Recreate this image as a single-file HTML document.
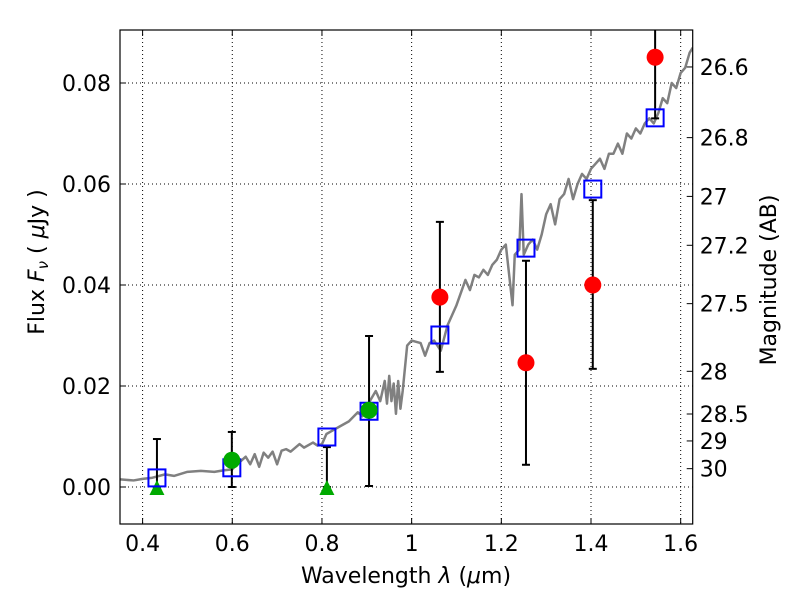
<!DOCTYPE html>
<html><head><meta charset="utf-8"><style>
body{margin:0;background:#fff;font-family:"Liberation Sans","DejaVu Sans",sans-serif}
svg text{font-family:"DejaVu Sans","Liberation Sans",sans-serif;font-size:22px;fill:#000}
</style></head><body>
<svg id="c" width="800" height="600" style="position:absolute;left:0;top:0"></svg>
<script>
const specLam=[0.35,0.38,0.40,0.42,0.45,0.47,0.50,0.53,0.56,0.58,0.60,0.61,0.62,0.63,0.64,0.65,0.66,0.67,0.68,0.69,0.70,0.71,0.72,0.73,0.75,0.76,0.78,0.79,0.80,0.81,0.82,0.84,0.85,0.86,0.88,0.89,0.90,0.91,0.92,0.93,0.94,0.945,0.95,0.955,0.96,0.965,0.97,0.975,0.98,0.99,1.00,1.02,1.03,1.04,1.05,1.065,1.08,1.10,1.12,1.13,1.14,1.15,1.16,1.17,1.18,1.19,1.20,1.21,1.22,1.225,1.23,1.24,1.245,1.25,1.26,1.27,1.28,1.29,1.30,1.31,1.32,1.33,1.34,1.35,1.36,1.37,1.38,1.39,1.40,1.41,1.42,1.43,1.44,1.45,1.46,1.47,1.48,1.49,1.50,1.51,1.52,1.53,1.54,1.55,1.56,1.57,1.58,1.59,1.60,1.61,1.62,1.627];
const specFlux=[0.0015,0.0013,0.0016,0.0018,0.0025,0.0022,0.003,0.0032,0.003,0.0033,0.0035,0.0045,0.0052,0.006,0.0045,0.0065,0.004,0.0068,0.0058,0.007,0.0045,0.0072,0.0075,0.007,0.0085,0.0078,0.0088,0.0082,0.0085,0.0105,0.011,0.012,0.0125,0.013,0.0148,0.014,0.016,0.0175,0.019,0.017,0.021,0.0165,0.022,0.017,0.0205,0.0145,0.021,0.0155,0.019,0.028,0.029,0.0285,0.026,0.0285,0.029,0.027,0.032,0.036,0.041,0.039,0.042,0.0415,0.043,0.042,0.044,0.045,0.047,0.048,0.040,0.036,0.046,0.047,0.058,0.046,0.048,0.049,0.047,0.050,0.054,0.056,0.052,0.057,0.058,0.061,0.057,0.060,0.062,0.061,0.063,0.064,0.065,0.063,0.066,0.066,0.068,0.066,0.070,0.069,0.071,0.070,0.072,0.073,0.072,0.074,0.077,0.076,0.080,0.079,0.082,0.083,0.086,0.087];
const modelLam=[0.432,0.599,0.811,0.905,1.063,1.255,1.404,1.543];
const modelFlux=[0.0018,0.0038,0.0099,0.0150,0.0301,0.0473,0.0590,0.0731];
const detLam=[0.599,0.905];
const detFlux=[0.0053,0.0152];
const redLam=[1.063,1.255,1.404,1.543];
const redFlux=[0.0376,0.0246,0.0400,0.0851];
const errLam=[0.432,0.599,0.811,0.905,1.063,1.255,1.404,1.543];
const errLo=[0,0,0,0.0002,0.0228,0.0044,0.0234,0.073];
const errHi=[0.0095,0.0109,0.0079,0.0299,0.0525,0.0448,0.0568,0.095];
const limLam=[0.432,0.811];
const xTicks=[0.4,0.6,0.8,1.0,1.2,1.4,1.6];
const xLabels=["0.4","0.6","0.8","1","1.2","1.4","1.6"];
const yTicks=[0,0.02,0.04,0.06,0.08];
const yLabels=["0.00","0.02","0.04","0.06","0.08"];
const magTicks=[26.6,26.8,27,27.2,27.5,28,28.5,29,30];
const magLabels=["26.6","26.8","27","27.2","27.5","28","28.5","29","30"];

const L=120,R=692.7,T=30,B=524;
const X=v=>142.6+(v-0.4)*448.4;
const Y=v=>487-v*5050;
const M=m=>Y(Math.pow(10,(23.9-m)/2.5));
const svg=document.getElementById('c');
const NS='http://www.w3.org/2000/svg';
function mk(t,a,p){const e=document.createElementNS(NS,t);for(const k in a)e.setAttribute(k,a[k]);(p||svg).appendChild(e);return e;}
const clip=mk('clipPath',{id:'cp'});mk('rect',{x:L,y:T,width:R-L,height:B-T},clip);
const g=mk('g',{'clip-path':'url(#cp)'});
xTicks.forEach(v=>{const e=mk('line',{x1:X(v),x2:X(v),y1:T,y2:B,stroke:'#000','stroke-width':1,'stroke-dasharray':'1,3'},g);

});
yTicks.forEach(v=>{const e=mk('line',{x1:L,x2:R,y1:Y(v),y2:Y(v),stroke:'#000','stroke-width':1,'stroke-dasharray':'1,3'},g);

});
const sp=mk('polyline',{points:specLam.map((l,i)=>X(l)+','+Y(specFlux[i])).join(' '),fill:'none',stroke:'#808080','stroke-width':2.5,'stroke-linejoin':'round'},g);


errLam.forEach((l,i)=>{const x=X(l);const gg=mk('g',{stroke:'#000','stroke-width':2},g);


mk('line',{x1:x,x2:x,y1:Y(errLo[i]),y2:Y(errHi[i])},gg);
mk('line',{x1:x-4,x2:x+4,y1:Y(errHi[i]),y2:Y(errHi[i])},gg);
mk('line',{x1:x-4,x2:x+4,y1:Y(errLo[i]),y2:Y(errLo[i])},gg);});
limLam.forEach(l=>{const x=X(l),y=Y(0);const e=mk('polygon',{points:`${x-7.5},${y+8} ${x+7.5},${y+8} ${x},${y-7}`,fill:'#00aa00'},g);

});
modelLam.forEach((l,i)=>{const e=mk('rect',{x:X(l)-8.5,y:Y(modelFlux[i])-8.5,width:17,height:17,fill:'none',stroke:'#0000ff','stroke-width':2},g);

});
detLam.forEach((l,i)=>{const e=mk('circle',{cx:X(l),cy:Y(detFlux[i]),r:8.5,fill:'#00aa00'},g);

});
redLam.forEach((l,i)=>{const e=mk('circle',{cx:X(l),cy:Y(redFlux[i]),r:8.5,fill:'#ff0000'},g);

});
const fr=mk('rect',{x:L,y:T,width:R-L,height:B-T,fill:'none',stroke:'#000','stroke-width':1.2});


xTicks.forEach((v,i)=>{const x=X(v);mk('line',{x1:x,x2:x,y1:B,y2:B-6,stroke:'#000'});mk('line',{x1:x,x2:x,y1:T,y2:T+6,stroke:'#000'});
const t=mk('text',{x:x,y:B+27,'text-anchor':'middle'});t.textContent=xLabels[i];

});
yTicks.forEach((v,i)=>{const y=Y(v);mk('line',{x1:L,x2:L+6,y1:y,y2:y,stroke:'#000'});
const t=mk('text',{x:L-9,y:y+8,'text-anchor':'end'});t.textContent=yLabels[i];

});
magTicks.forEach((m,i)=>{const y=M(m);mk('line',{x1:R,x2:R-6,y1:y,y2:y,stroke:'#000'});
const t=mk('text',{x:R+7,y:y+8,'text-anchor':'start'});t.textContent=magLabels[i];

});
</script>
<svg width="800" height="600" style="position:absolute;left:0;top:0">
<text x="406" y="583" text-anchor="middle">Wavelength  <tspan font-style="italic">λ</tspan> (<tspan font-style="italic">μ</tspan>m)</text>
<text transform="translate(44,262) rotate(-90)" text-anchor="middle">Flux  <tspan font-style="italic">F<tspan font-size="15" dy="4">ν</tspan></tspan><tspan dy="-4">  ( </tspan><tspan font-style="italic">μ</tspan>Jy )</text>
<text transform="translate(776,280) rotate(-90)" text-anchor="middle">Magnitude (AB)</text>
</svg>
</body></html>
